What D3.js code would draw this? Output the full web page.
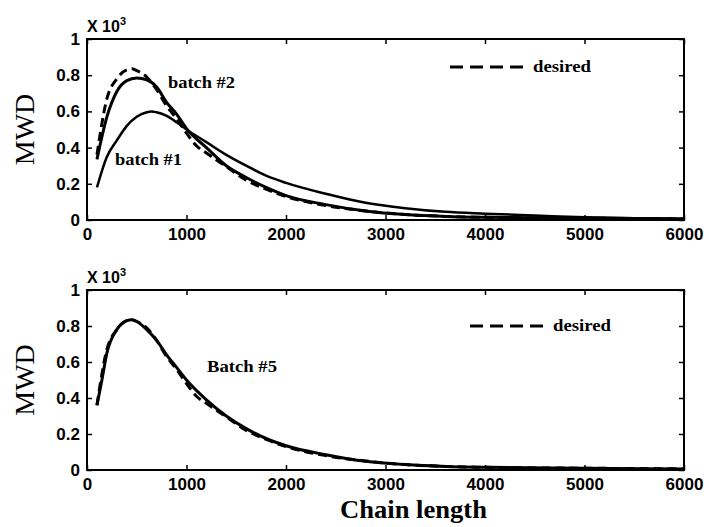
<!DOCTYPE html>
<html lang="en">
<head>
  <meta charset="UTF-8">
  <title>MWD vs chain length</title>
  <script src="https://d3js.org/d3.v7.min.js"></script>
  <style>
    body {
      margin: 0;
      background-color: white;
    }
    svg {
      display: block;
    }
    .tick text {
      font-family: "Liberation Sans", Arial, sans-serif;
      font-weight: bold;
      font-size: 17px;
      fill: black;
    }
    .tick line {
      stroke: black;
      stroke-width: 1.5px;
    }
    .domain {
      display: none;
    }
    .serif {
      font-family: "Liberation Serif", "Times New Roman", serif;
      fill: black;
    }
  </style>
</head>
<body>
  <svg width="709" height="527"></svg>
  <script>
    // data (MWD in units of 10^3)
    const xTicks = [0, 1000, 2000, 3000, 4000, 5000, 6000];
    const yTicks = [0, 0.2, 0.4, 0.6, 0.8, 1];
    const yTickLabels = ["0", "0.2", "0.4", "0.6", "0.8", "1"];

    const batch1X = [100, 200, 300, 400, 500, 600, 650, 700, 800, 900, 1000, 1200, 1400, 1600, 1800, 2000, 2400, 2800, 3200, 3600, 4000, 4500, 5000, 5500, 6000];
    const batch1Y = [0.18, 0.35, 0.44, 0.52, 0.57, 0.595, 0.60, 0.595, 0.575, 0.54, 0.50, 0.43, 0.36, 0.30, 0.245, 0.205, 0.145, 0.095, 0.065, 0.045, 0.035, 0.025, 0.015, 0.01, 0.007];

    const batch2X = [100, 200, 300, 400, 500, 600, 700, 800, 900, 1000, 1200, 1400, 1600, 1800, 2000, 2400, 2800, 3200, 3600, 4000, 4500, 5000, 5500, 6000];
    const batch2Y = [0.335, 0.57, 0.71, 0.77, 0.785, 0.775, 0.735, 0.65, 0.585, 0.505, 0.40, 0.30, 0.235, 0.18, 0.135, 0.085, 0.05, 0.03, 0.02, 0.015, 0.012, 0.01, 0.008, 0.006];

    const desiredX = [100, 200, 300, 400, 450, 500, 600, 700, 800, 900, 1000, 1100, 1200, 1400, 1600, 1800, 2000, 2400, 2800, 3200, 3600, 4000, 5000, 6000];
    const desiredY = [0.36, 0.67, 0.78, 0.83, 0.835, 0.825, 0.79, 0.72, 0.63, 0.56, 0.48, 0.41, 0.37, 0.295, 0.22, 0.17, 0.13, 0.08, 0.05, 0.03, 0.02, 0.015, 0.01, 0.006];

    const batch5X = [100, 150, 200, 300, 400, 450, 500, 600, 700, 800, 900, 1000, 1200, 1400, 1600, 1800, 2000, 2400, 2800, 3200, 3600, 4000, 5000, 6000];
    const batch5Y = [0.36, 0.50, 0.65, 0.78, 0.83, 0.835, 0.825, 0.78, 0.72, 0.64, 0.57, 0.50, 0.39, 0.30, 0.23, 0.175, 0.135, 0.085, 0.048, 0.03, 0.02, 0.015, 0.01, 0.006];

    const svg = d3.select("svg");
    const left = 87, right = 684;

    const x = d3.scaleLinear().domain([0, 6000]).range([left, right]);

    const zip = (xs, ys) => xs.map((v, i) => [v, ys[i]]);

    function panel(top, bottom, series, labels, legend) {
      const y = d3.scaleLinear().domain([0, 1]).range([bottom, top]);
      const g = svg.append("g");

      g.append("g")
        .attr("transform", `translate(0,${bottom})`)
        .call(d3.axisBottom(x).tickValues(xTicks).tickSizeInner(-5).tickSizeOuter(0).tickPadding(8).tickFormat(d3.format("d")));
      g.append("g")
        .attr("transform", `translate(0,${top})`)
        .call(d3.axisTop(x).tickValues(xTicks).tickSizeInner(-5).tickSizeOuter(0).tickFormat(""));
      g.append("g")
        .attr("transform", `translate(${left},0)`)
        .call(d3.axisLeft(y).tickValues(yTicks).tickSizeInner(-5).tickSizeOuter(0).tickPadding(7).tickFormat((d, i) => yTickLabels[i]));
      g.append("g")
        .attr("transform", `translate(${right},0)`)
        .call(d3.axisRight(y).tickValues(yTicks).tickSizeInner(-5).tickSizeOuter(0).tickFormat(""));

      g.append("rect")
        .attr("x", left).attr("y", top)
        .attr("width", right - left).attr("height", bottom - top)
        .attr("fill", "none").attr("stroke", "black").attr("stroke-width", 2);

      const line = d3.line()
        .x(d => x(d[0]))
        .y(d => y(d[1]))
        .curve(d3.curveMonotoneX);

      series.forEach(s => {
        g.append("path")
          .datum(zip(s.xs, s.ys))
          .attr("d", line)
          .attr("fill", "none")
          .attr("stroke", "black")
          .attr("stroke-width", s.width)
          .attr("stroke-dasharray", s.dash || null)
          .attr("stroke-linejoin", "round");
      });

      labels.forEach(l => {
        g.append("text")
          .attr("class", "serif")
          .attr("x", l.x).attr("y", l.y)
          .attr("font-size", 17).attr("font-weight", "bold")
          .attr("textLength", l.w).attr("lengthAdjust", "spacingAndGlyphs")
          .text(l.text);
      });

      // legend
      g.append("line")
        .attr("x1", legend.x).attr("x2", legend.x + 73)
        .attr("y1", legend.y).attr("y2", legend.y)
        .attr("stroke", "black").attr("stroke-width", 3)
        .attr("stroke-dasharray", "13,7");
      g.append("text")
        .attr("class", "serif")
        .attr("x", legend.x + 83).attr("y", legend.y + 5)
        .attr("font-size", 17).attr("font-weight", "bold")
        .attr("textLength", 58).attr("lengthAdjust", "spacingAndGlyphs")
        .text("desired");

      // exponent
      const ex = g.append("text")
        .attr("x", left).attr("y", top - 7)
        .attr("font-family", "Liberation Sans, Arial, sans-serif")
        .attr("font-weight", "bold").attr("font-size", 16);
      ex.append("tspan").text("X 10");
      ex.append("tspan").attr("dy", -7).attr("font-size", 11).text("3");

      // y label
      g.append("text")
        .attr("class", "serif")
        .attr("transform", `translate(34,${(top + bottom) / 2}) rotate(-90)`)
        .attr("text-anchor", "middle")
        .attr("font-size", 28)
        .text("MWD");
    }

    panel(39, 220, [
      { xs: batch1X, ys: batch1Y, width: 2.5 },
      { xs: batch2X, ys: batch2Y, width: 3 },
      { xs: desiredX, ys: desiredY, width: 3, dash: "9,5" }
    ], [
      { text: "batch #2", x: 168, y: 88, w: 67 },
      { text: "batch #1", x: 115, y: 165, w: 67 }
    ], { x: 450, y: 67 });

    panel(290, 470, [
      { xs: desiredX, ys: desiredY, width: 3, dash: "9,5" },
      { xs: batch5X, ys: batch5Y, width: 3 }
    ], [
      { text: "Batch #5", x: 207, y: 372, w: 70 }
    ], { x: 470, y: 326 });

    svg.append("text")
      .attr("class", "serif")
      .attr("x", 340).attr("y", 518)
      .attr("font-size", 25).attr("font-weight", "bold")
      .attr("textLength", 147).attr("lengthAdjust", "spacingAndGlyphs")
      .text("Chain length");
  </script>
</body>
</html>
